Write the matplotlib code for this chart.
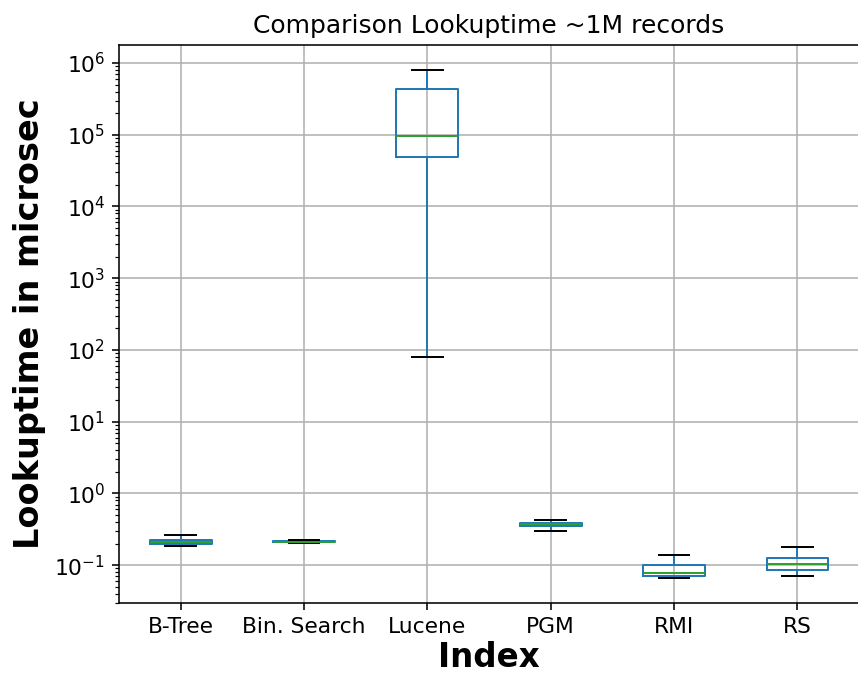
import matplotlib
matplotlib.use("Agg")
import matplotlib.pyplot as plt

# index names and box statistics (microseconds)
labels = ["B-Tree", "Bin. Search", "Lucene", "PGM", "RMI", "RS"]
whislo = [0.187, 0.205, 81.0, 0.30, 0.067, 0.071]
q1 = [0.196, 0.207, 4.9e4, 0.35, 0.071, 0.086]
med = [0.209, 0.212, 9.6e4, 0.37, 0.079, 0.105]
q3 = [0.226, 0.218, 4.4e5, 0.39, 0.099, 0.127]
whishi = [0.265, 0.222, 7.9e5, 0.425, 0.14, 0.178]

stats = []
for i in range(len(labels)):
    stats.append({
        "label": labels[i],
        "whislo": whislo[i],
        "q1": q1[i],
        "med": med[i],
        "q3": q3[i],
        "whishi": whishi[i],
        "fliers": [],
    })

fig = plt.figure(figsize=(858 / 142, 674 / 142), dpi=142)
ax = fig.add_axes([119 / 858, 1 - 603 / 674, 740 / 858, 558 / 674])

ax.bxp(stats, showfliers=False,
       boxprops=dict(color="C0"),
       whiskerprops=dict(color="C0"),
       capprops=dict(color="k"),
       medianprops=dict(color="C2"))

ax.set_yscale("log")
ax.grid(True)
ax.tick_params(labelsize=11)
ax.set_title("Comparison Lookuptime ~1M records", fontsize=12.7)
ax.set_xlabel("Index", fontsize=16.5, fontweight="bold", labelpad=2)
ax.set_ylabel("Lookuptime in microsec", fontsize=17, fontweight="bold")

fig.savefig("out.png", dpi=142)
